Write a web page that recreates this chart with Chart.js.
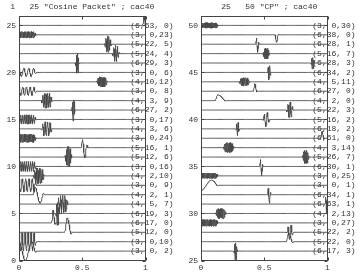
<!DOCTYPE html>
<html><head><meta charset="utf-8">
<script src="https://cdn.jsdelivr.net/npm/chart.js@4.4.1/dist/chart.umd.min.js"></script>
<style>
html,body{margin:0;padding:0;background:#fff;}
#wrap{position:relative;width:360px;height:276px;}
canvas{position:absolute;top:0;}
</style></head><body>
<div id="wrap">
<canvas id="c1" width="180" height="276" style="left:0"></canvas>
<canvas id="c2" width="180" height="276" style="left:180px"></canvas>
</div>
<script>
const N = 512;
const xTicks = [0, 0.5, 1];
const xTickLabels = ['0', '0.5', '1'];

// ---- left panel: atoms ranked 1..25 ----
const leftTitle = '1   25 "Cosine Packet" ; cac40';
const leftLevels = [25,24,23,22,21,20,19,18,17,16,15,14,13,12,11,10,9,8,7,6,5,4,3,2,1];
const leftDepth  = [6,3,5,5,6,3,4,3,4,6,3,4,3,5,5,3,4,3,4,4,6,6,5,3,3];
const leftBlock  = [63,0,22,24,29,0,10,0,3,27,0,3,0,16,12,0,2,0,2,5,19,17,12,0,0];
const leftFreq   = [0,23,5,4,3,6,12,8,9,2,17,6,24,1,6,16,10,9,1,7,3,0,0,10,2];
const leftAmp    = [1.0,0.35,0.9,0.9,1.2,0.45,0.55,0.45,0.8,1.2,0.5,0.75,0.45,1.1,1.15,0.55,0.85,0.7,0.9,0.95,1.4,1.5,1.7,1.0,1.0];
const leftDrawBlock = leftBlock.slice();

// ---- right panel: atoms ranked 26..50 ----
const rightTitle = '25   50 "CP" ; cac40';
const rightLevels = [50,49,48,47,46,45,44,43,42,41,40,39,38,37,36,35,34,33,32,31,30,29,28,27,26];
const rightDepth  = [3,6,6,5,6,6,4,6,4,5,5,6,6,4,5,6,3,3,6,6,4,3,5,5,6];
const rightBlock  = [0,38,28,16,28,34,5,27,2,22,16,18,61,3,26,30,0,0,34,63,2,0,22,22,17];
const rightFreq   = [30,0,1,7,3,2,11,0,0,3,2,2,0,14,7,1,25,1,1,1,13,27,2,0,3];
const rightAmp    = [0.3,-0.9,0.9,0.65,0.7,0.8,0.45,0.9,0.65,0.85,0.8,0.75,0.8,0.55,0.8,1.0,0.3,-0.55,0.95,1.0,0.55,0.37,0.8,1.0,1.05];
const rightDrawBlock = [0,38,28,16,56,34,5,27,2,22,16,18,61,3,26,30,0,0,34,63,2,0,22,22,17];

function bell(r){ return Math.sin(Math.PI/4*(1+Math.sin(Math.PI/2*r))); }
function atom(d,b,k,t){
  const nb = Math.pow(2,d), L = 1/nb, a = b*L, m = Math.min(L/2, 1/64);
  if (t < a - m || t > a + L + m) return 0;
  const wl = (b===0) ? 1 : (t > a + m ? 1 : bell((t-a)/m));
  const wr = (b===nb-1) ? 1 : (t < a + L - m ? 1 : bell((a+L-t)/m));
  return wl*wr*Math.cos(Math.PI*(k+0.5)*(t-a)/L);
}
function lbl(d,b,k){ return '(' + d + ',' + String(b).padStart(2,' ') + ',' + String(k).padStart(2,' ') + ')'; }

function buildDatasets(levels, depth, block, freq, amp){
  return levels.map((lev,i)=>{
    const pts = [];
    for (let j=0;j<=N;j++){
      const t = j/N;
      pts.push({x:t, y: lev + amp[i]*atom(depth[i], block[i], freq[i], t)});
    }
    return {data:pts, borderColor:'#4a4a4a', borderWidth:0.9, pointRadius:0, fill:false, tension:0};
  });
}

const MONO = '"Liberation Mono","DejaVu Sans Mono",monospace';

const deco = {
  id:'deco',
  afterDraw(chart, args, o){
    const {ctx, chartArea:ca, scales:{x,y}} = chart;
    ctx.save();
    ctx.strokeStyle = '#444'; ctx.lineWidth = 1;
    const L = Math.round(ca.left)+0.5, R = Math.round(ca.right)-0.5, T = Math.round(ca.top)+0.5, B = Math.round(ca.bottom)-0.5;
    ctx.strokeRect(L, T, R-L, B-T);
    ctx.beginPath();
    o.yTicks.forEach(v=>{ const py = Math.round(y.getPixelForValue(v))+0.5; ctx.moveTo(L,py); ctx.lineTo(L+3,py); ctx.moveTo(R,py); ctx.lineTo(R-3,py); });
    xTicks.forEach(v=>{ const px = Math.round(x.getPixelForValue(v))+0.5; ctx.moveTo(px,T); ctx.lineTo(px,T+3); ctx.moveTo(px,B); ctx.lineTo(px,B-3); });
    ctx.stroke();
    ctx.font = '8px ' + MONO;
    ctx.fillStyle = '#333'; ctx.textBaseline = 'middle'; ctx.textAlign = 'left';
    o.labels.forEach((s,i)=> ctx.fillText(s, x.getPixelForValue(0.88), y.getPixelForValue(o.levels[i])));
    ctx.textAlign = 'center';
    ctx.fillText(o.title, (ca.left+ca.right)/2 + o.titleShift, 7);
    ctx.restore();
  }
};

function makeChart(id, levels, depth, block, drawBlock, freq, amp, title, ymin, ymax, ywidth, titleShift){
  const yTicks = [];
  for (let v=ymin; v<=ymax; v+=5) yTicks.push(v);
  return new Chart(document.getElementById(id), {
    type:'line',
    data:{datasets: buildDatasets(levels, depth, drawBlock, freq, amp)},
    options:{
      responsive:false, animation:false, parsing:false, normalized:true,
      layout:{padding:{top:16, right:180-ywidth-126.5, left:0, bottom:0}},
      plugins:{legend:{display:false}, tooltip:{enabled:false},
        deco:{labels: levels.map((_,i)=>lbl(depth[i],block[i],freq[i])), levels, title, yTicks, titleShift}},
      scales:{
        x:{type:'linear', min:0, max:1, grid:{display:false, drawTicks:false}, border:{display:false},
           afterBuildTicks: s=>{ s.ticks = xTicks.map(v=>({value:v})); },
           ticks:{font:{family:MONO, size:8}, color:'#333', padding:3, maxRotation:0,
                  callback:(v,i)=>xTickLabels[i]},
           afterFit: s=>{ s.height = 15.5; }},
        y:{type:'linear', min:ymin, max:ymax+1, grid:{display:false, drawTicks:false}, border:{display:false},
           afterBuildTicks: s=>{ s.ticks = yTicks.map(v=>({value:v})); },
           ticks:{font:{family:MONO, size:8}, color:'#333', padding:3},
           afterFit: s=>{ s.width = ywidth; }}
      }
    },
    plugins:[deco]
  });
}

makeChart('c1', leftLevels, leftDepth, leftBlock, leftDrawBlock, leftFreq, leftAmp, leftTitle, 0, 25, 19, 0);
makeChart('c2', rightLevels, rightDepth, rightBlock, rightDrawBlock, rightFreq, rightAmp, rightTitle, 25, 50, 21, 5);
</script>
</body></html>
